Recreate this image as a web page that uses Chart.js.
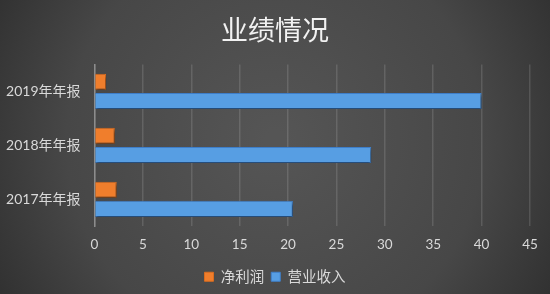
<!DOCTYPE html>
<html>
<head>
<meta charset="utf-8">
<script src="https://cdn.jsdelivr.net/npm/chart.js@4"></script>
<style>
  html, body { margin: 0; padding: 0; background: #3a3a3a; }
  #wrap { width: 550px; height: 294px; position: relative; }
</style>
</head>
<body>
<div id="wrap"><canvas id="c" width="550" height="294"></canvas></div>
<script>
const categories = ['2019年年报', '2018年年报', '2017年年报'];
const seriesNames = ['净利润', '营业收入'];
const netProfit = [1.2, 2.1, 2.3];
const revenue = [40, 28.6, 20.5];
const xMin = 0, xMax = 45, xStep = 5;

const FONT = 'Lato, "Noto Sans CJK SC", sans-serif';

const bgPlugin = {
  id: 'bg',
  beforeDraw(chart) {
    const { ctx, width, height } = chart;
    ctx.save();
    const g = ctx.createRadialGradient(width * 0.5, height * 0.48, 10, width * 0.5, height * 0.48, width * 0.62);
    g.addColorStop(0, '#555555');
    g.addColorStop(0.6, '#474747');
    g.addColorStop(1, '#2c2c2c');
    ctx.fillStyle = g;
    ctx.fillRect(0, 0, width, height);
    ctx.restore();
  }
};

const shadowPlugin = {
  id: 'barShadow',
  beforeDatasetsDraw(chart) {
    const ctx = chart.ctx;
    ctx.save();
    ctx.shadowColor = 'rgba(0,0,0,0.55)';
    ctx.shadowBlur = 3;
    ctx.shadowOffsetX = 1;
    ctx.shadowOffsetY = 2;
  },
  afterDatasetsDraw(chart) {
    chart.ctx.restore();
  }
};

new Chart(document.getElementById('c'), {
  type: 'bar',
  data: {
    labels: categories,
    datasets: [
      {
        label: seriesNames[0],
        data: netProfit,
        backgroundColor: '#f07e2c',
        borderColor: '#d96c1f',
        borderWidth: 1,
        categoryPercentage: 0.71,
        barPercentage: 0.84
      },
      {
        label: seriesNames[1],
        data: revenue,
        backgroundColor: '#579ee3',
        borderColor: '#3f80cc',
        borderWidth: 1,
        categoryPercentage: 0.71,
        barPercentage: 0.84
      }
    ]
  },
  options: {
    indexAxis: 'y',
    responsive: false,
    animation: false,
    layout: { padding: { left: 0, right: 0, top: 0, bottom: 0 } },
    plugins: {
      title: {
        display: true,
        text: '业绩情况',
        color: '#f2f2f2',
        font: { family: '"Noto Sans CJK SC", sans-serif', size: 27, weight: 'normal' },
        padding: { top: 14, bottom: 18 }
      },
      legend: {
        position: 'bottom',
        labels: {
          color: '#d9d9d9',
          font: { family: '"Noto Sans CJK SC", sans-serif', size: 14.5 },
          boxWidth: 9,
          boxHeight: 9,
          padding: 7
        }
      },
      tooltip: { enabled: false }
    },
    scales: {
      x: {
        min: xMin,
        max: xMax,
        ticks: {
          stepSize: xStep,
          color: '#d9d9d9',
          font: { family: FONT, size: 13.5 },
          padding: 10
        },
        grid: { color: 'rgba(255,255,255,0.13)', lineWidth: 1.5, drawTicks: false },
        border: { display: false }
      },
      y: {
        ticks: {
          color: '#d9d9d9',
          font: { family: FONT, size: 14 },
          padding: 14
        },
        grid: { display: false, drawTicks: false },
        border: { display: true, color: '#8c8c8c', width: 1.5 },
        afterFit(scale) { scale.width = 94.5; }
      },
      yRight: {
        type: 'linear',
        position: 'right',
        display: true,
        ticks: { display: false },
        grid: { display: false, drawTicks: false },
        border: { display: false },
        afterFit(scale) { scale.width = 20; }
      }
    }
  },
  plugins: [bgPlugin, shadowPlugin]
});
</script>
</body>
</html>
